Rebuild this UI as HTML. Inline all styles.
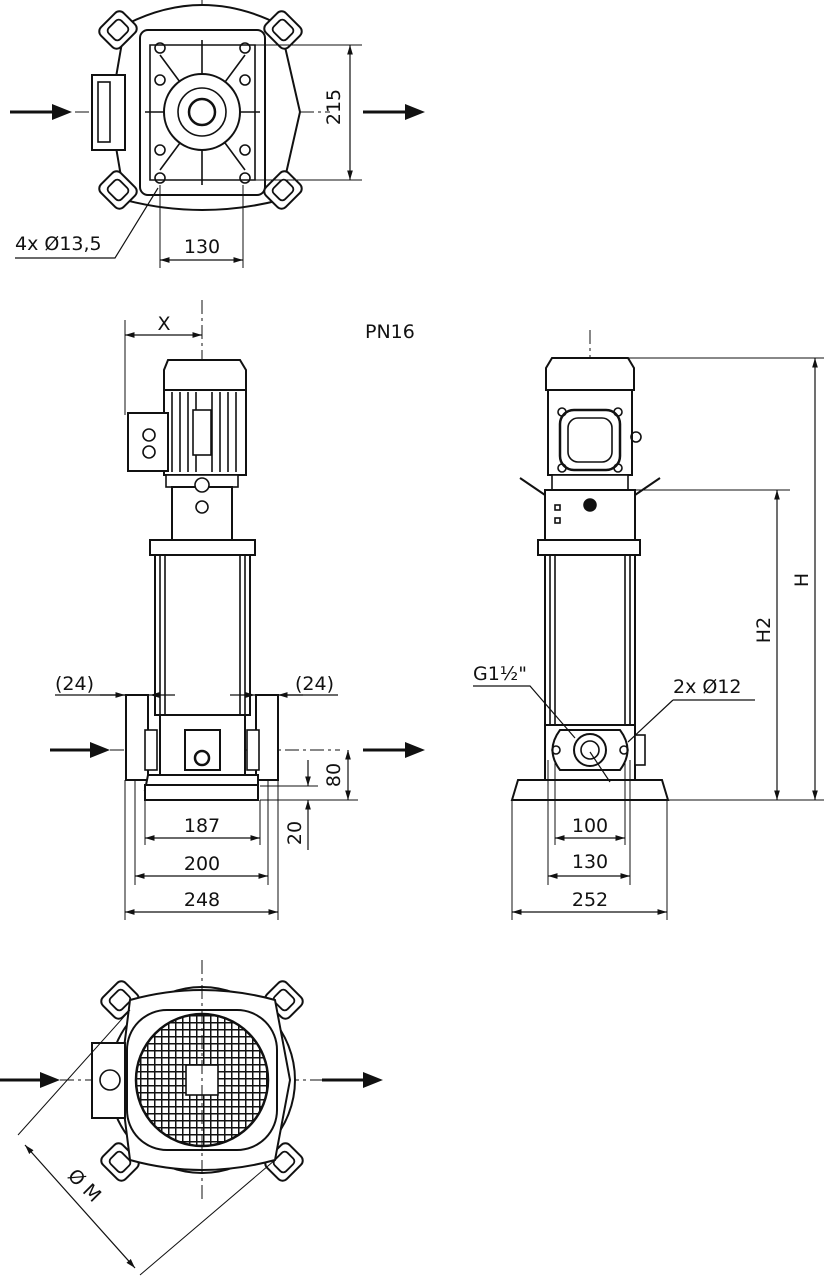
<!DOCTYPE html>
<html><head><meta charset="utf-8"><style>
html,body{margin:0;padding:0;background:#fff}
svg{display:block}
text{font-family:"DejaVu Sans","Liberation Sans",sans-serif;font-size:19px;fill:#111}
</style></head><body>
<svg width="824" height="1280" viewBox="0 0 824 1280" xmlns="http://www.w3.org/2000/svg">
<defs>
<marker id="a" viewBox="0 0 10 10" refX="10" refY="5" markerWidth="8" markerHeight="8" orient="auto-start-reverse"><path d="M0,2 L10,5 L0,8z" fill="#111"/></marker>
<g id="foot"><rect x="-16" y="-14" width="32" height="28" rx="6" fill="#fff" stroke="#111" stroke-width="2"/><rect x="-9" y="-8" width="18" height="16" rx="4" fill="none" stroke="#111" stroke-width="1.8"/></g>
<pattern id="grid" width="7" height="7" patternUnits="userSpaceOnUse"><rect width="7" height="7" fill="#fff"/><path d="M0,0H7M0,0V7" stroke="#111" stroke-width="3"/></pattern>
</defs>
<g fill="none" stroke="#111" stroke-width="1.6">

<!-- TOP VIEW -->
<line x1="202" y1="0" x2="202" y2="200" stroke-dasharray="14,4,3,4" stroke-width="1"/>
<line x1="75" y1="112" x2="330" y2="112" stroke-dasharray="14,4,3,4" stroke-width="1"/>
<path d="M125,25 Q202,-15 280,25 L300,112 L280,200 Q202,220 125,200 L110,112Z" fill="#fff" stroke-width="2"/>
<rect x="92" y="75" width="33" height="75" fill="#fff" stroke-width="2"/>
<rect x="98" y="82" width="12" height="60"/>
<rect x="140" y="30" width="125" height="165" rx="8" fill="#fff" stroke-width="2"/>
<path d="M150,45 L255,45 L255,180 L150,180Z"/>
<path d="M160,55 L245,170 M245,55 L160,170 M202,40 V185 M145,112 H260"/>
<circle cx="202" cy="112" r="38" fill="#fff" stroke-width="2"/>
<circle cx="202" cy="112" r="24"/>
<circle cx="202" cy="112" r="13" stroke-width="2.5"/>
<circle cx="160" cy="48" r="5"/><circle cx="245" cy="48" r="5"/><circle cx="160" cy="178" r="5"/><circle cx="245" cy="178" r="5"/>
<circle cx="160" cy="80" r="5"/><circle cx="245" cy="80" r="5"/><circle cx="160" cy="150" r="5"/><circle cx="245" cy="150" r="5"/>
<use href="#foot" transform="translate(118,30) rotate(-45)"/>
<use href="#foot" transform="translate(283,30) rotate(45)"/>
<use href="#foot" transform="translate(118,190) rotate(45)"/>
<use href="#foot" transform="translate(283,190) rotate(-45)"/>
<line x1="250" y1="45" x2="362" y2="45" stroke-width="1"/>
<line x1="250" y1="180" x2="362" y2="180" stroke-width="1"/>
<line x1="350" y1="45" x2="350" y2="180" marker-start="url(#a)" marker-end="url(#a)" stroke-width="1.2"/>
<line x1="160" y1="185" x2="160" y2="268" stroke-width="1"/>
<line x1="243" y1="185" x2="243" y2="268" stroke-width="1"/>
<line x1="160" y1="260" x2="243" y2="260" marker-start="url(#a)" marker-end="url(#a)" stroke-width="1.2"/>
<path d="M15,258 H115 L158,188" stroke-width="1.2"/>

<!-- MIDDLE LEFT VIEW -->
<line x1="202" y1="300" x2="202" y2="800" stroke-dasharray="14,4,3,4" stroke-width="1"/>
<line x1="110" y1="750" x2="340" y2="750" stroke-dasharray="14,4,3,4" stroke-width="1"/>
<path d="M168,360 H240 L246,370 V390 H164 V370Z" fill="#fff" stroke-width="2"/>
<rect x="164" y="390" width="82" height="85" fill="#fff" stroke-width="2"/>
<path d="M172,392V472M180,392V472M188,392V472M196,392V472M212,392V472M220,392V472M228,392V472M236,392V472"/>
<rect x="193" y="410" width="18" height="45" fill="#fff"/>
<rect x="128" y="413" width="40" height="58" fill="#fff" stroke-width="2"/>
<circle cx="149" cy="435" r="6"/><circle cx="149" cy="452" r="6"/>
<rect x="166" y="475" width="72" height="12" fill="#fff"/>
<rect x="172" y="487" width="60" height="53" fill="#fff" stroke-width="2"/>
<circle cx="202" cy="485" r="7" fill="#fff"/><circle cx="202" cy="507" r="6"/>
<rect x="150" y="540" width="105" height="15" fill="#fff" stroke-width="2"/>
<rect x="155" y="555" width="95" height="160" fill="#fff" stroke-width="2"/>
<path d="M160,555V715M165,555V715M240,555V715M245,555V715"/>
<rect x="160" y="715" width="85" height="60" fill="#fff" stroke-width="2"/>
<rect x="185" y="730" width="35" height="40" fill="#fff" stroke-width="2"/>
<circle cx="202" cy="758" r="7" stroke-width="2.5"/>
<rect x="126" y="695" width="22" height="85" fill="#fff" stroke-width="2"/>
<rect x="256" y="695" width="22" height="85" fill="#fff" stroke-width="2"/>
<rect x="145" y="730" width="12" height="40" fill="#fff"/><rect x="247" y="730" width="12" height="40" fill="#fff"/>
<path d="M148,775 H258 V790 H145Z" fill="#fff" stroke-width="2"/>
<rect x="145" y="785" width="113" height="15" fill="#fff" stroke-width="2"/>
<line x1="125" y1="320" x2="125" y2="415" stroke-width="1"/>
<line x1="125" y1="335" x2="202" y2="335" marker-start="url(#a)" marker-end="url(#a)" stroke-width="1.2"/>
<line x1="125" y1="780" x2="125" y2="920" stroke-width="1"/>
<line x1="278" y1="780" x2="278" y2="920" stroke-width="1"/>
<line x1="135" y1="780" x2="135" y2="885" stroke-width="1"/>
<line x1="268" y1="780" x2="268" y2="885" stroke-width="1"/>
<line x1="145" y1="800" x2="145" y2="845" stroke-width="1"/>
<line x1="260" y1="800" x2="260" y2="845" stroke-width="1"/>
<line x1="145" y1="838" x2="260" y2="838" marker-start="url(#a)" marker-end="url(#a)" stroke-width="1.2"/>
<line x1="135" y1="876" x2="268" y2="876" marker-start="url(#a)" marker-end="url(#a)" stroke-width="1.2"/>
<line x1="125" y1="912" x2="278" y2="912" marker-start="url(#a)" marker-end="url(#a)" stroke-width="1.2"/>
<path d="M55,695 H125 M150,695 H130 M278,695 H338 M255,695 H275" stroke-width="1.2"/>
<line x1="100" y1="695" x2="125" y2="695" marker-end="url(#a)" stroke-width="1.2"/>
<line x1="175" y1="695" x2="150" y2="695" marker-end="url(#a)" stroke-width="1.2"/>
<line x1="230" y1="695" x2="255" y2="695" marker-end="url(#a)" stroke-width="1.2"/>
<line x1="303" y1="695" x2="278" y2="695" marker-end="url(#a)" stroke-width="1.2"/>
<line x1="260" y1="800" x2="358" y2="800" stroke-width="1"/>
<line x1="260" y1="786" x2="318" y2="786" stroke-width="1"/>
<line x1="348" y1="750" x2="348" y2="800" marker-start="url(#a)" marker-end="url(#a)" stroke-width="1.2"/>
<line x1="308" y1="760" x2="308" y2="786" marker-end="url(#a)" stroke-width="1.2"/>
<line x1="308" y1="850" x2="308" y2="800" marker-end="url(#a)" stroke-width="1.2"/>

<!-- RIGHT VIEW -->
<line x1="590" y1="330" x2="590" y2="800" stroke-dasharray="14,4,3,4" stroke-width="1"/>
<path d="M552,358 H628 L634,368 V390 H546 V368Z" fill="#fff" stroke-width="2"/>
<rect x="548" y="390" width="84" height="85" fill="#fff" stroke-width="2"/>
<rect x="560" y="410" width="60" height="60" rx="14" fill="#fff" stroke-width="2.5"/>
<rect x="568" y="418" width="44" height="44" rx="10"/>
<circle cx="562" cy="412" r="4"/><circle cx="618" cy="412" r="4"/><circle cx="562" cy="468" r="4"/><circle cx="618" cy="468" r="4"/>
<circle cx="636" cy="437" r="5"/>
<rect x="552" y="475" width="76" height="15" fill="#fff"/>
<path d="M520,478 L545,495 M660,478 L635,495" stroke-width="2"/>
<rect x="545" y="490" width="90" height="50" fill="#fff" stroke-width="2"/>
<circle cx="590" cy="505" r="6" fill="#111"/>
<rect x="555" y="505" width="5" height="5"/><rect x="555" y="518" width="5" height="5"/>
<rect x="538" y="540" width="102" height="15" fill="#fff" stroke-width="2"/>
<rect x="545" y="555" width="90" height="170" fill="#fff" stroke-width="2"/>
<path d="M550,555V725M555,555V725M625,555V725M630,555V725"/>
<rect x="545" y="725" width="90" height="55" fill="#fff" stroke-width="2"/>
<path d="M560,730 H620 Q635,750 620,770 H560 Q545,750 560,730Z" fill="#fff" stroke-width="2"/>
<circle cx="590" cy="750" r="16" stroke-width="2"/><circle cx="590" cy="750" r="9"/>
<circle cx="556" cy="750" r="4"/><circle cx="624" cy="750" r="4"/>
<rect x="635" y="735" width="10" height="30" fill="#fff"/>
<path d="M512,800 L518,780 H662 L668,800Z" fill="#fff" stroke-width="2"/>
<line x1="512" y1="800" x2="824" y2="800" stroke-width="1"/>
<line x1="628" y1="358" x2="824" y2="358" stroke-width="1"/>
<line x1="635" y1="490" x2="790" y2="490" stroke-width="1"/>
<line x1="815" y1="358" x2="815" y2="800" marker-start="url(#a)" marker-end="url(#a)" stroke-width="1.2"/>
<line x1="777" y1="490" x2="777" y2="800" marker-start="url(#a)" marker-end="url(#a)" stroke-width="1.2"/>
<path d="M473,686 H530 L575,738 M610,782 L590,752" stroke-width="1.2"/>
<path d="M673,700 H755 M673,700 L628,742" stroke-width="1.2"/>
<line x1="512" y1="800" x2="512" y2="920" stroke-width="1"/>
<line x1="667" y1="800" x2="667" y2="920" stroke-width="1"/>
<line x1="548" y1="760" x2="548" y2="885" stroke-width="1"/>
<line x1="630" y1="760" x2="630" y2="885" stroke-width="1"/>
<line x1="555" y1="760" x2="555" y2="845" stroke-width="1"/>
<line x1="625" y1="760" x2="625" y2="845" stroke-width="1"/>
<line x1="555" y1="838" x2="625" y2="838" marker-start="url(#a)" marker-end="url(#a)" stroke-width="1.2"/>
<line x1="548" y1="876" x2="630" y2="876" marker-start="url(#a)" marker-end="url(#a)" stroke-width="1.2"/>
<line x1="512" y1="912" x2="667" y2="912" marker-start="url(#a)" marker-end="url(#a)" stroke-width="1.2"/>

<!-- BOTTOM VIEW -->
<line x1="60" y1="1080" x2="330" y2="1080" stroke-dasharray="14,4,3,4" stroke-width="1"/>
<circle cx="202" cy="1080" r="93" fill="#fff" stroke-width="2"/>
<use href="#foot" transform="translate(120,1000) rotate(-45)"/>
<use href="#foot" transform="translate(284,1000) rotate(45)"/>
<use href="#foot" transform="translate(120,1162) rotate(45)"/>
<use href="#foot" transform="translate(284,1162) rotate(-45)"/>
<path d="M130,1000 Q202,980 275,1000 L290,1080 L275,1160 Q202,1180 130,1160 L120,1080Z" fill="#fff" stroke-width="2"/>
<rect x="92" y="1043" width="33" height="75" fill="#fff" stroke-width="2"/>
<circle cx="110" cy="1080" r="10"/>
<rect x="127" y="1010" width="150" height="140" rx="40" fill="#fff" stroke-width="2"/>
<circle cx="202" cy="1080" r="66" fill="url(#grid)" stroke-width="2.5"/>
<rect x="186" y="1065" width="32" height="30" fill="#fff"/>
<line x1="202" y1="960" x2="202" y2="1200" stroke-dasharray="14,4,3,4" stroke-width="1"/>
<path d="M130,1010 L18,1135 M275,1160 L140,1275" stroke-width="1"/>
<line x1="25" y1="1145" x2="135" y2="1268" marker-start="url(#a)" marker-end="url(#a)" stroke-width="1.2"/>
</g>

<g fill="#111" stroke="#111" stroke-width="3">
<line x1="10" y1="112" x2="58" y2="112"/><path d="M72,112 L52,104 L52,120Z" stroke="none"/>
<line x1="363" y1="112" x2="410" y2="112"/><path d="M425,112 L405,104 L405,120Z" stroke="none"/>
<line x1="50" y1="750" x2="96" y2="750"/><path d="M110,750 L90,742 L90,758Z" stroke="none"/>
<line x1="363" y1="750" x2="410" y2="750"/><path d="M425,750 L405,742 L405,758Z" stroke="none"/>
<line x1="0" y1="1080" x2="46" y2="1080"/><path d="M60,1080 L40,1072 L40,1088Z" stroke="none"/>
<line x1="322" y1="1080" x2="368" y2="1080"/><path d="M383,1080 L363,1072 L363,1088Z" stroke="none"/>
</g>

<text x="345" y="112" text-anchor="middle" transform="rotate(-90 340 112)">215</text>
<text x="202" y="253" text-anchor="middle">130</text>
<text x="15" y="250">4x Ø13,5</text>
<text x="164" y="330" text-anchor="middle">X</text>
<text x="365" y="338">PN16</text>
<text x="55" y="690">(24)</text>
<text x="295" y="690">(24)</text>
<text x="202" y="832" text-anchor="middle">187</text>
<text x="202" y="870" text-anchor="middle">200</text>
<text x="202" y="906" text-anchor="middle">248</text>
<text x="0" y="0" text-anchor="middle" transform="translate(340 775) rotate(-90)">80</text>
<text x="0" y="0" text-anchor="middle" transform="translate(301 833) rotate(-90)">20</text>
<text x="473" y="680">G1½"</text>
<text x="673" y="693">2x Ø12</text>
<text x="590" y="832" text-anchor="middle">100</text>
<text x="590" y="868" text-anchor="middle">130</text>
<text x="590" y="906" text-anchor="middle">252</text>
<text x="0" y="0" text-anchor="middle" transform="translate(808 580) rotate(-90)">H</text>
<text x="0" y="0" text-anchor="middle" transform="translate(770 630) rotate(-90)">H2</text>
<text x="0" y="0" text-anchor="middle" transform="translate(80 1190) rotate(45)">Ø M</text>
</svg>
</body></html>
